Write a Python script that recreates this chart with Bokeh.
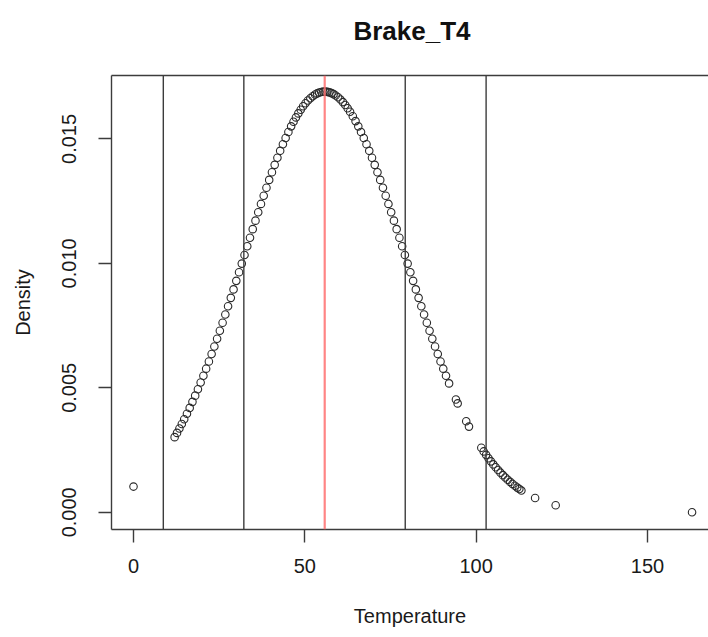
from bokeh.plotting import figure
from bokeh.models import Range1d, FixedTicker, LinearAxis, Span, NumeralTickFormatter, Div
from bokeh.layouts import column
from bokeh.embed import file_html
from bokeh.resources import INLINE

title_text = "Brake_T4"
x_label = "Temperature"
y_label = "Density"

temperature = [0.0,
    12.0, 12.7, 13.4, 14.1, 14.8, 15.6, 16.4, 17.2, 18.0, 18.8, 19.6, 20.4, 21.2, 22.0, 22.8,
    23.6, 24.4, 25.2, 26.0, 26.8, 27.6, 28.4, 29.2, 30.0, 30.8, 31.6, 32.4, 33.2, 34.0, 34.8,
    35.6, 36.4, 37.2, 38.0, 38.8, 39.6, 40.4, 41.2, 42.0, 42.8, 43.6, 44.4, 45.2, 46.0, 46.7,
    47.4, 48.1, 48.8, 49.5, 50.2, 50.9, 51.6, 52.3, 53.0, 53.6, 54.2, 54.8, 55.4, 56.0, 56.6,
    57.2, 57.8, 58.4, 59.0, 59.7, 60.4, 61.1, 61.8, 62.5, 63.2, 64.0, 64.8, 65.6, 66.4, 67.2,
    68.0, 68.8, 69.6, 70.4, 71.2, 72.0, 72.8, 73.6, 74.4, 75.2, 76.0, 76.8, 77.6, 78.4, 79.2,
    80.0, 80.8, 81.6, 82.4, 83.2, 84.0, 84.8, 85.6, 86.4, 87.2, 88.0, 88.8, 89.6, 90.4, 91.2,
    92.1, 94.1, 94.6, 97.1, 97.9,
    101.5, 102.2, 102.9, 103.6, 104.3, 105.0, 105.7, 106.4, 107.1, 107.8, 108.5, 109.2, 109.9,
    110.6, 111.3, 112.0, 112.6, 113.2,
    117.2, 123.2, 163.0]

density = [0.001033,
    0.003019, 0.003189, 0.003365, 0.003548, 0.003737, 0.003961, 0.004194, 0.004436, 0.004686,
    0.004945, 0.005212, 0.005487, 0.005770, 0.006060, 0.006358,
    0.006663, 0.006974, 0.007292, 0.007615, 0.007944, 0.008277, 0.008614, 0.008954, 0.009298,
    0.009643, 0.009990, 0.010337, 0.010685, 0.011031, 0.011375,
    0.011717, 0.012055, 0.012388, 0.012716, 0.013038, 0.013353, 0.013659, 0.013957, 0.014244,
    0.014521, 0.014786, 0.015039, 0.015278, 0.015504, 0.015689,
    0.015863, 0.016024, 0.016173, 0.016309, 0.016431, 0.016540, 0.016634, 0.016715, 0.016782,
    0.016827, 0.016861, 0.016885, 0.016898, 0.016899, 0.016890,
    0.016870, 0.016840, 0.016798, 0.016745, 0.016671, 0.016582, 0.016479, 0.016363, 0.016232,
    0.016089, 0.015910, 0.015715, 0.015504, 0.015278, 0.015039,
    0.014786, 0.014521, 0.014244, 0.013957, 0.013659, 0.013353, 0.013038, 0.012716, 0.012388,
    0.012055, 0.011717, 0.011375, 0.011031, 0.010685, 0.010337,
    0.009990, 0.009643, 0.009298, 0.008954, 0.008614, 0.008277, 0.007944, 0.007615, 0.007292,
    0.006974, 0.006663, 0.006358, 0.006060, 0.005770, 0.005487,
    0.005178, 0.004529, 0.004375, 0.003655, 0.003442,
    0.002592, 0.002446, 0.002307, 0.002173, 0.002046, 0.001924, 0.001808, 0.001697, 0.001592,
    0.001492, 0.001397, 0.001307, 0.001221,
    0.001140, 0.001064, 0.000992, 0.000933, 0.000878,
    0.000573, 0.000286, 0.0000006]

sd_lines = [8.7, 32.2, 79.3, 102.9]
mean_line = 55.8
x_ticks = [0, 50, 100, 150]
y_ticks = [0.0, 0.005, 0.010, 0.015]

FONT = "Liberation Sans"
LINE = "#3c3c3c"
TEXT = "#1a1a1a"

title_div = Div(
    text=('<div style="margin-left:116px;width:592px;text-align:center;padding-top:18px;'
          'font-family:\'Liberation Sans\';font-size:26px;font-weight:bold;line-height:26px;'
          'color:#111111;white-space:nowrap;">' + title_text + '</div>'),
    width=708, height=50, margin=0)

p = figure(width=708, height=587, output_backend="svg", toolbar_location=None,
           x_range=Range1d(-6.42, 167.8), y_range=Range1d(-0.000691, 0.017547),
           min_border_left=111, min_border_right=0, min_border_top=25, min_border_bottom=108,
           x_axis_label=x_label, y_axis_label=y_label, margin=0)
p.background_fill_color = "white"
p.border_fill_color = "white"
p.outline_line_color = None
p.grid.visible = False
p.title.text = ""
p.title.standoff = 0
p.title.text_font_size = "1px"

for ax in (p.xaxis[0], p.yaxis[0]):
    ax.axis_line_color = LINE
    ax.axis_line_width = 1.4
    ax.major_tick_line_color = LINE
    ax.major_tick_line_width = 1.4
    ax.major_tick_in = 0
    ax.major_tick_out = 13
    ax.minor_tick_line_color = None
    ax.major_label_text_font = FONT
    ax.major_label_text_font_size = "20px"
    ax.major_label_text_color = TEXT
    ax.axis_label_text_font = FONT
    ax.axis_label_text_font_size = "20px"
    ax.axis_label_text_font_style = "normal"
    ax.axis_label_text_color = TEXT

p.xaxis[0].ticker = FixedTicker(ticks=x_ticks)
p.xaxis[0].major_label_standoff = 16
p.xaxis[0].axis_label_standoff = 29
p.yaxis[0].ticker = FixedTicker(ticks=y_ticks)
p.yaxis[0].formatter = NumeralTickFormatter(format="0.000")
p.yaxis[0].major_label_orientation = "vertical"
p.yaxis[0].major_label_standoff = 22
p.yaxis[0].axis_label_standoff = 26

top = LinearAxis(ticker=FixedTicker(ticks=[]), axis_line_color=LINE, axis_line_width=1.4,
                 major_tick_out=0, major_tick_in=0, minor_tick_out=0, minor_tick_in=0)
p.add_layout(top, "above")

p.scatter(temperature, density, marker="circle", size=7.5, fill_color=None,
          line_color="#2a2a2a", line_width=1.1)

for loc in sd_lines:
    p.add_layout(Span(location=loc, dimension="height", line_color=LINE, line_width=1.4))
p.add_layout(Span(location=mean_line, dimension="height", line_color="#ff7070",
                  line_alpha=0.85, line_width=2.2))

layout = column(title_div, p, spacing=0)

open("out.html", "w").write(file_html(layout, INLINE))
